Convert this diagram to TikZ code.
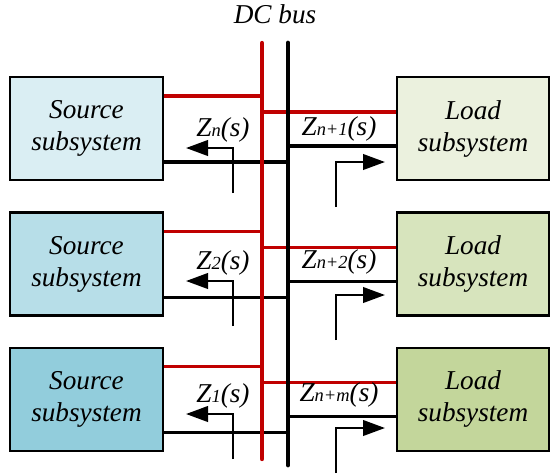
\documentclass[tikz,border=0pt]{standalone}
\usepackage{fontspec}
\setmainfont{Liberation Serif}
\usetikzlibrary{arrows.meta,positioning}
\definecolor{dcred}{HTML}{C00000}
\definecolor{srcA}{HTML}{DAEEF3}
\definecolor{srcB}{HTML}{B7DEE8}
\definecolor{srcC}{HTML}{92CDDC}
\definecolor{loadA}{HTML}{EBF1DE}
\definecolor{loadB}{HTML}{D7E4BD}
\definecolor{loadC}{HTML}{C3D69B}
\newcommand{\zimp}[1]{Z{\fontsize{10.5}{10.5}\selectfont #1}(s)}

\begin{document}
\begin{tikzpicture}[
  x=0.02cm, y=-0.02cm,
  font=\fontsize{15.5}{18.2}\selectfont\itshape,
  >={Triangle[length=4.4mm,width=3.1mm]},
  src/.style={draw, line width=1.4pt, align=center, minimum width=30.6mm,
    minimum height=20.6mm, inner sep=0pt},
  load/.style={draw, line width=1.4pt, align=center, minimum width=30.4mm,
    minimum height=20.6mm, inner sep=0pt},
  redbus/.style={draw=dcred, line width=2.5pt, line cap=round},
  blkbus/.style={line width=2.7pt, line cap=round},
  redline/.style={draw=dcred, line width=1.8pt},
  blkline/.style={line width=1.8pt},
  zarrow/.style={->, line width=1.4pt},
  zlab/.style={inner sep=0pt}
]
  \useasboundingbox (0,0) rectangle (550,474);

  \node (dcbus) at (275,14) {DC bus};

  \node[src, fill=srcA] at (86.5,128.5) (src1) {Source\\subsystem};
  \node[src, fill=srcB, below=6mm of src1] (src2) {Source\\subsystem};
  \node[src, fill=srcC, below=6mm of src2] (src3) {Source\\subsystem};

  \node[load, fill=loadA] at (473,128.5) (load1) {Load\\subsystem};
  \node[load, fill=loadB, below=6mm of load1] (load2) {Load\\subsystem};
  \node[load, fill=loadC, below=6mm of load2] (load3) {Load\\subsystem};

  \coordinate (rtop) at (262,43);
  \coordinate (rbot) at (262,459);
  \coordinate (btop) at (288,43);
  \coordinate (bbot) at (288,465);

  % connections to the bus
  \draw[redline] ([yshift=6.5mm]src1.east) coordinate (s1r) -- (s1r -| rtop);
  \draw[redline] ([yshift=3.3mm]load1.west) coordinate (l1r) -- (l1r -| rtop);
  \draw[blkline] ([yshift=-3.5mm]load1.west) coordinate (l1b) -- (l1b -| btop);
  \draw[blkline] ([yshift=-6.7mm]src1.east) coordinate (s1b) -- (s1b -| btop);

  \draw[redline] ([yshift=6.5mm]src2.east) coordinate (s2r) -- (s2r -| rtop);
  \draw[redline] ([yshift=3.3mm]load2.west) coordinate (l2r) -- (l2r -| rtop);
  \draw[blkline] ([yshift=-3.5mm]load2.west) coordinate (l2b) -- (l2b -| btop);
  \draw[blkline] ([yshift=-6.7mm]src2.east) coordinate (s2b) -- (s2b -| btop);

  \draw[redline] ([yshift=6.5mm]src3.east) coordinate (s3r) -- (s3r -| rtop);
  \draw[redline] ([yshift=3.3mm]load3.west) coordinate (l3r) -- (l3r -| rtop);
  \draw[blkline] ([yshift=-3.5mm]load3.west) coordinate (l3b) -- (l3b -| btop);
  \draw[blkline] ([yshift=-6.7mm]src3.east) coordinate (s3b) -- (s3b -| btop);

  \draw[redbus] (rtop) -- (rbot);
  \draw[blkbus] (btop) -- (bbot);

  % impedance arrows
  \draw[zarrow] (233,193) |- (186,148);
  \draw[zarrow] (336,207) |- (385,162);
  \draw[zarrow] (233,326) |- (186,281);
  \draw[zarrow] (336,340) |- (385,295);
  \draw[zarrow] (233,459) |- (186,414);
  \draw[zarrow] (336,473) |- (385,428);

  \node[zlab] (zn) at (223,130) {\zimp{n}};
  \node[zlab] (zn1) at (339,129) {\zimp{n+1}};
  \node[zlab] (z2) at (223,263) {\zimp{2}};
  \node[zlab] (zn2) at (339,262) {\zimp{n+2}};
  \node[zlab] (z1) at (223,396) {\zimp{1}};
  \node[zlab] (znm) at (339,395) {\zimp{n+m}};
\end{tikzpicture}
\end{document}
